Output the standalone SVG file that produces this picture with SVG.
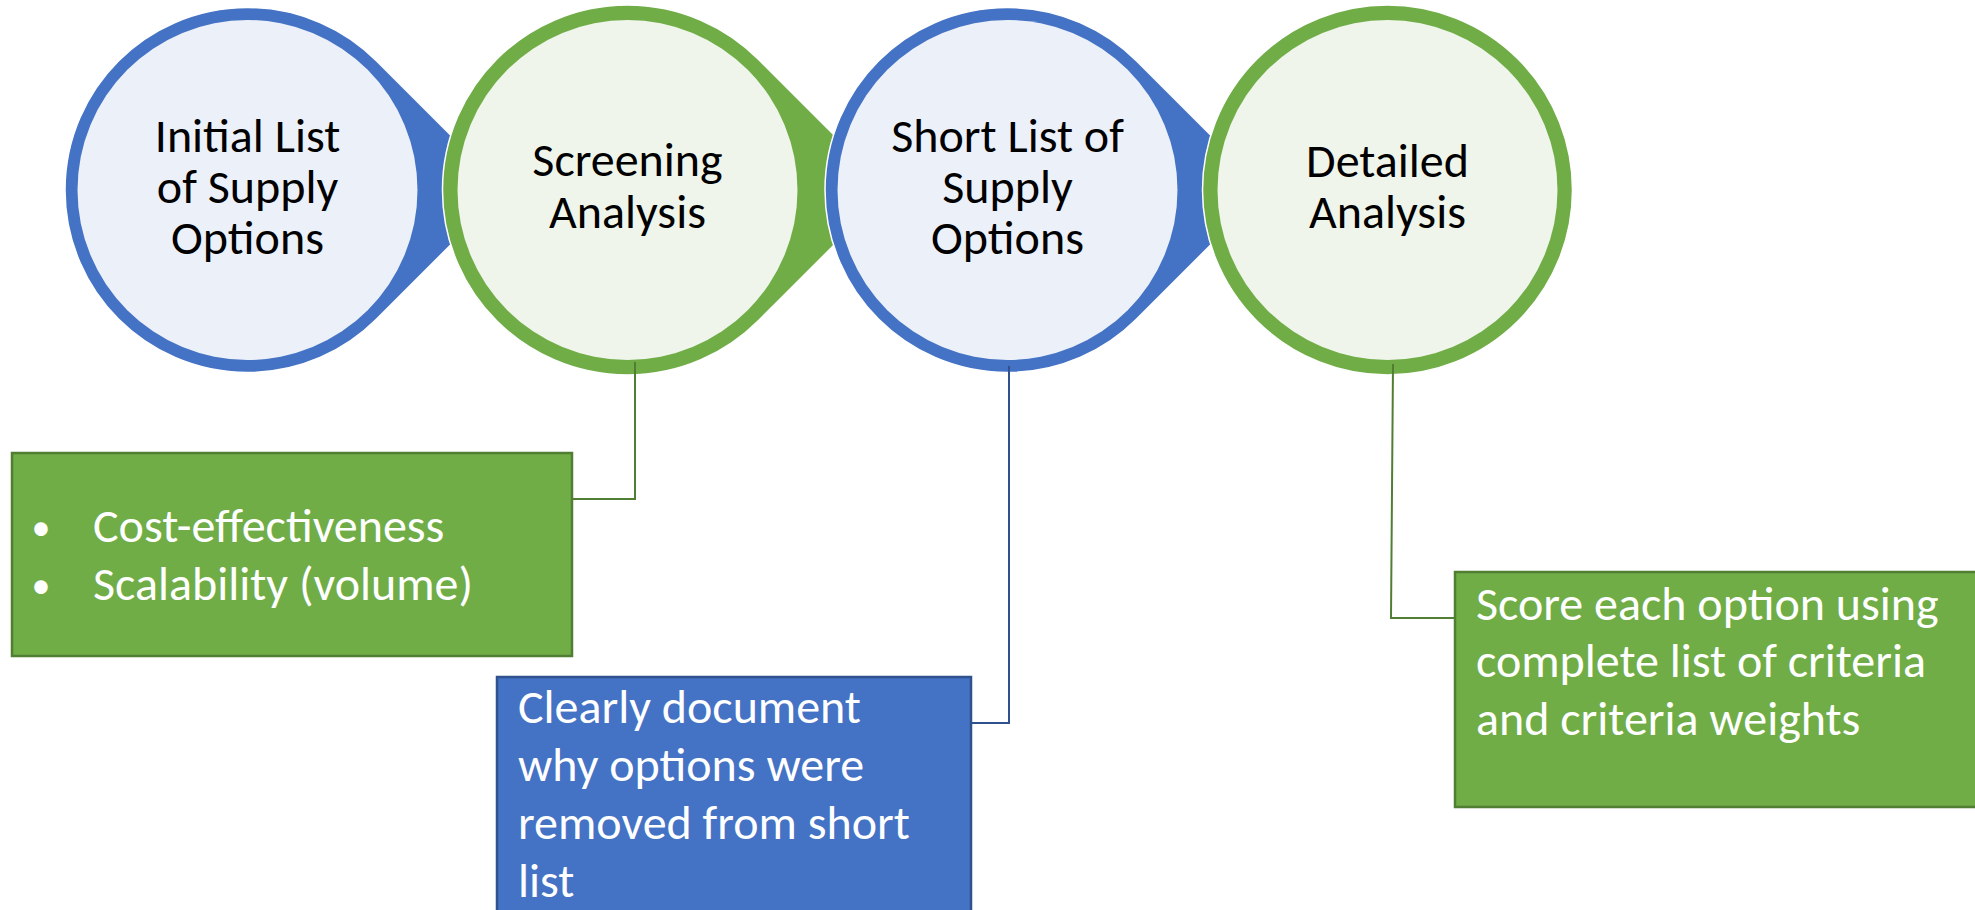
<svg xmlns="http://www.w3.org/2000/svg" width="1975" height="910" viewBox="0 0 1975 910">
<style>
.bl{fill:#4472C4;stroke:#FFFFFF;stroke-width:1.5}
.gr{fill:#70AD47;stroke:#FFFFFF;stroke-width:1.5}
.bli{fill:#ECF0F9}
.gri{fill:#EFF5EA}
.ct{font-family:Calibri,Carlito,Lato,"Liberation Sans",sans-serif;font-size:48px;fill:#000;text-anchor:middle}
.bt{font-family:Calibri,Carlito,Lato,"Liberation Sans",sans-serif;font-size:48px;fill:#FFFFFF}
.bu{font-family:Calibri,Carlito,Lato,"Liberation Sans",sans-serif;font-size:38px;fill:#FFFFFF;text-anchor:middle}
.gbox{fill:#70AD47;stroke:#507E32;stroke-width:2.5}
.bbox{fill:#4472C4;stroke:#2F528F;stroke-width:2.5}
.gc{fill:none;stroke:#507E32;stroke-width:2}
.bc{fill:none;stroke:#2F528F;stroke-width:2}
</style>
<g id="node-initial">
<path class="bl" d="M505.6 190 L376.6 61 A182.5 182.5 0 1 0 376.6 319 Z"/>
<circle class="bli" cx="247.5" cy="190" r="170"/>
<text class="ct" x="247.5" y="152">Initial List</text>
<text class="ct" x="247.5" y="203">of Supply</text>
<text class="ct" x="247.5" y="254">Options</text>
</g>
<g id="node-screening">
<path class="gr" d="M889.1 190 L758.3 59.2 A185 185 0 1 0 758.3 320.8 Z"/>
<circle class="gri" cx="627.5" cy="190" r="170"/>
<text class="ct" x="627.5" y="176">Screening</text>
<text class="ct" x="627.5" y="228">Analysis</text>
</g>
<g id="node-shortlist">
<path class="bl" d="M1265.6 190 L1136.6 61 A182.5 182.5 0 1 0 1136.6 319 Z"/>
<circle class="bli" cx="1007.5" cy="190" r="170"/>
<text class="ct" x="1007.5" y="152">Short List of</text>
<text class="ct" x="1007.5" y="203">Supply</text>
<text class="ct" x="1007.5" y="254">Options</text>
</g>
<g id="node-detailed">
<circle class="gr" cx="1387.5" cy="190" r="185"/>
<circle class="gri" cx="1387.5" cy="190" r="170"/>
<text class="ct" x="1387.5" y="177">Detailed</text>
<text class="ct" x="1387.5" y="228">Analysis</text>
</g>
<g id="connectors">
<polyline class="gc" points="635,362 635,499 572,499"/>
<polyline class="bc" points="1009,366 1009,723 971,723"/>
<polyline class="gc" points="1393,364 1391,618 1455,618"/>
</g>
<g id="box-screening">
<rect class="gbox" x="12" y="453" width="560" height="203"/>
<text class="bu" x="41" y="540">•</text>
<text class="bt" x="93" y="542">Cost-effectiveness</text>
<text class="bu" x="41" y="598">•</text>
<text class="bt" x="93" y="600">Scalability (volume)</text>
</g>
<g id="box-shortlist">
<rect class="bbox" x="497" y="677" width="474" height="240"/>
<text class="bt" x="518" y="723">Clearly document</text>
<text class="bt" x="518" y="781">why options were</text>
<text class="bt" x="518" y="839">removed from short</text>
<text class="bt" x="518" y="897">list</text>
</g>
<g id="box-detailed">
<rect class="gbox" x="1455" y="572" width="530" height="235"/>
<text class="bt" x="1476" y="620">Score each option using</text>
<text class="bt" x="1476" y="677">complete list of criteria</text>
<text class="bt" x="1476" y="735">and criteria weights</text>
</g>
</svg>
